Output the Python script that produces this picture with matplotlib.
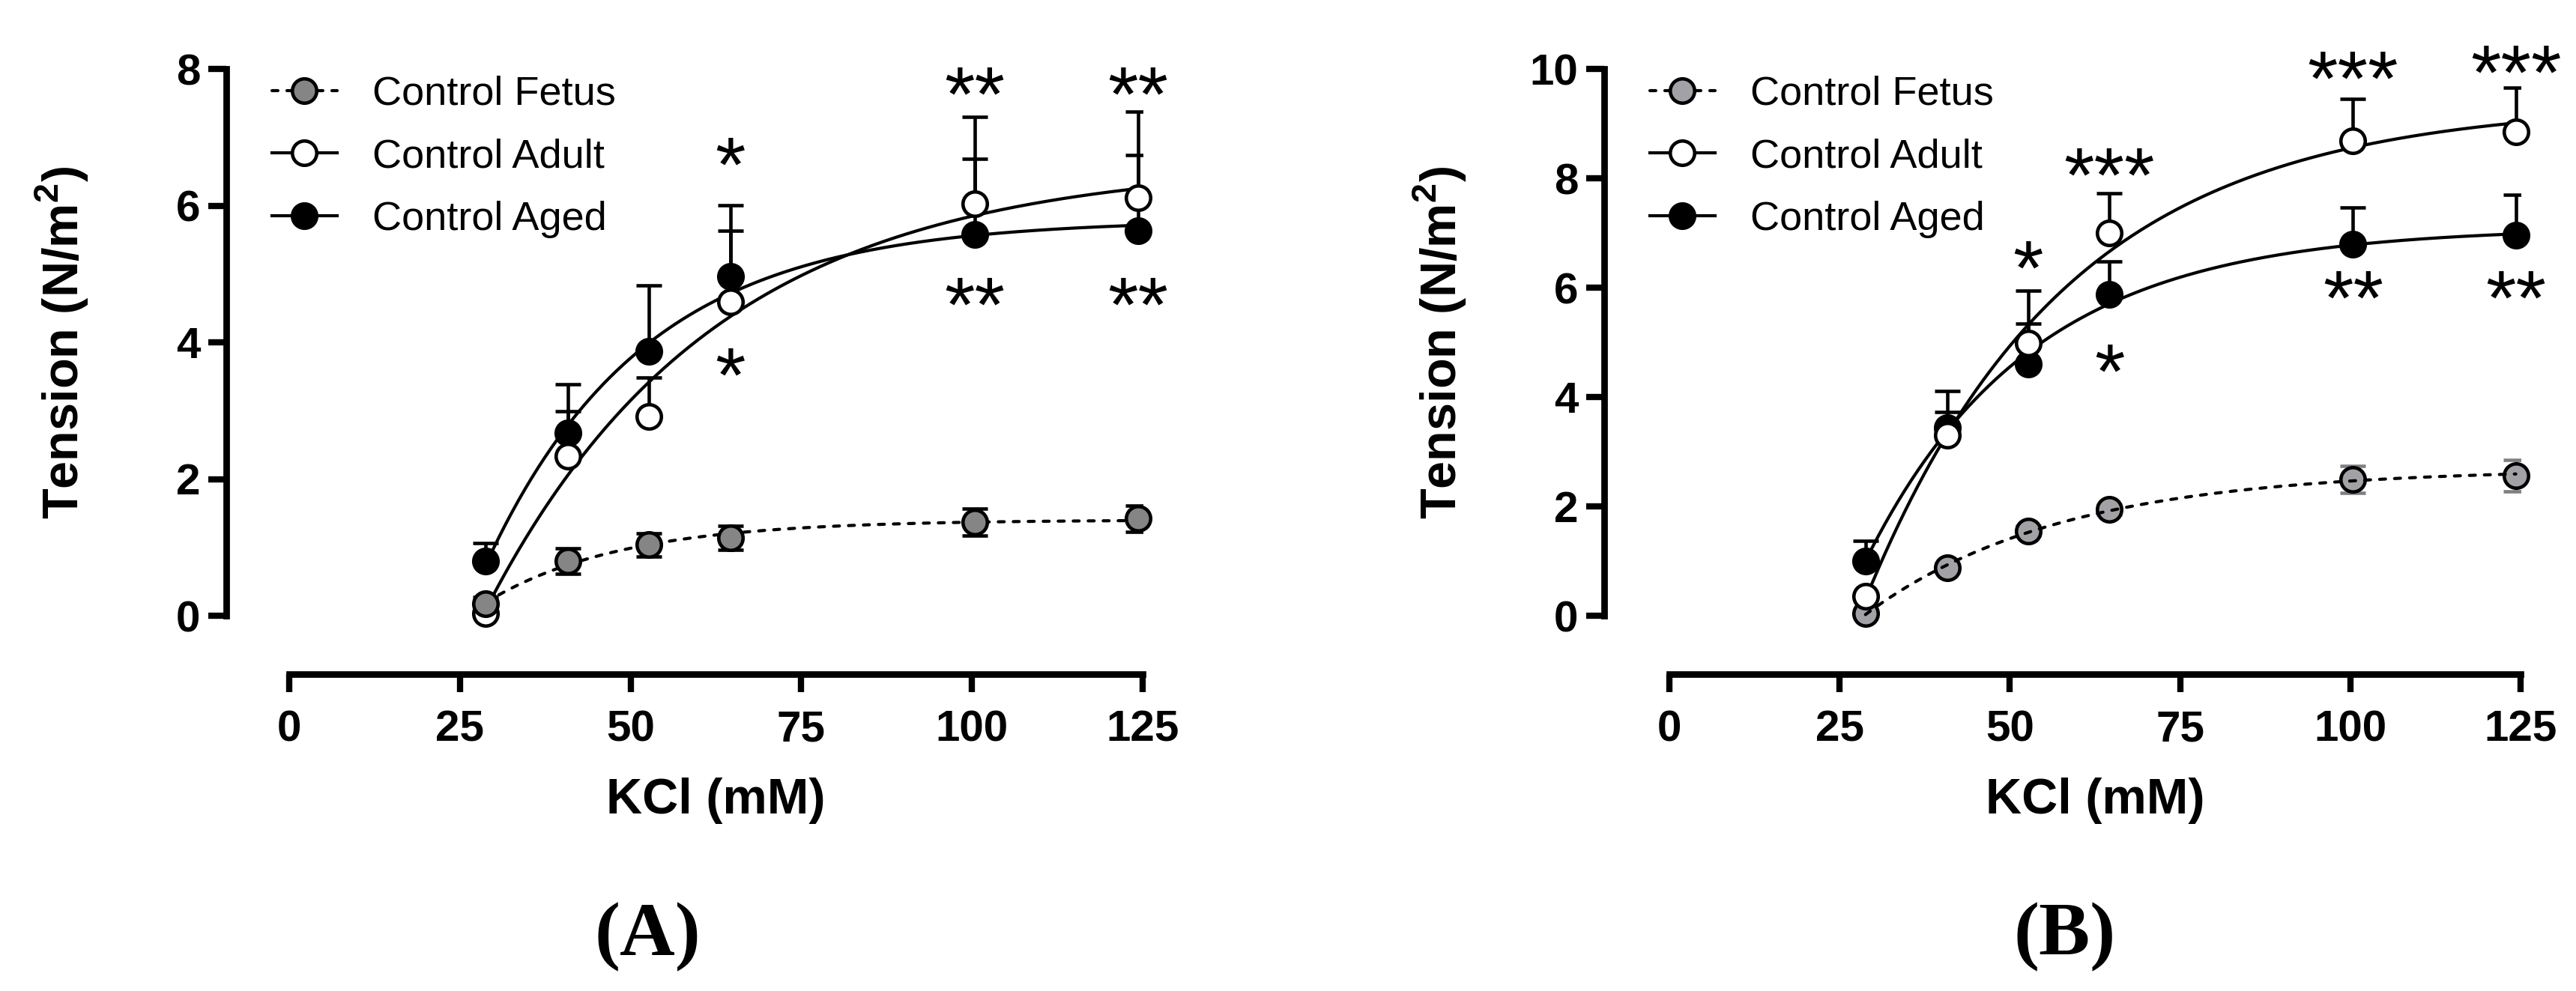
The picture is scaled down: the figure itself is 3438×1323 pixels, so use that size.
import numpy as np
import matplotlib
matplotlib.use('Agg')
import matplotlib.pyplot as plt
from matplotlib.lines import Line2D
import matplotlib.transforms as mtransforms

plt.rcParams['font.family'] = ['Liberation Sans', 'DejaVu Sans']
plt.rcParams['mathtext.fontset'] = 'custom'
plt.rcParams['mathtext.rm'] = 'Liberation Sans'
plt.rcParams['mathtext.bf'] = 'Liberation Sans:bold'

# ---------------- data ----------------
kcl = [28.8, 40.8, 52.7, 64.6, 100.4, 124.3]
series_labels = ['Control Fetus', 'Control Adult', 'Control Aged']
x_ticks = [0, 25, 50, 75, 100, 125]
x_tick_labels = ['0', '25', '50', '75', '100', '125']
yA_ticks = [0, 2, 4, 6, 8]
yA_tick_labels = ['0', '2', '4', '6', '8']
yB_ticks = [0, 2, 4, 6, 8, 10]
yB_tick_labels = ['0', '2', '4', '6', '8', '10']

A_fetus = [0.17, 0.80, 1.04, 1.14, 1.37, 1.42]
A_fetus_err = [0.10, 0.19, 0.17, 0.18, 0.20, 0.19]
A_adult = [0.03, 2.33, 2.92, 4.59, 6.03, 6.12]
A_adult_err = [0.00, 0.66, 0.57, 1.04, 1.27, 1.26]
A_aged = [0.80, 2.67, 3.87, 4.96, 5.58, 5.63]
A_aged_err = [0.26, 0.72, 0.96, 1.05, 1.11, 1.11]

B_fetus = [0.04, 0.87, 1.55, 1.94, 2.49, 2.56]
B_fetus_err = [0.07, 0.08, 0.09, 0.09, 0.25, 0.29]
B_adult = [0.35, 3.30, 4.99, 7.00, 8.68, 8.85]
B_adult_err = [0.00, 0.81, 0.96, 0.72, 0.77, 0.81]
B_aged = [1.00, 3.44, 4.60, 5.87, 6.79, 6.96]
B_aged_err = [0.37, 0.28, 0.74, 0.61, 0.68, 0.74]

A_star_x = [64.6, 100.4, 124.3, 64.6, 100.4, 124.3]
A_star_y = [6.77, 7.80, 7.80, 3.70, 4.73, 4.73]
A_star_txt = ['*', '**', '**', '*', '**', '**']
B_star_x = [52.7, 64.6, 100.4, 124.3, 64.6, 100.4, 124.3]
B_star_y = [6.58, 8.28, 10.04, 10.15, 4.69, 6.03, 6.03]
B_star_txt = ['*', '***', '***', '***', '*', '**', '**']

# ---------------- figure ----------------
W, H, DPI = 3438, 1323, 300
fig = plt.figure(figsize=(W / DPI, H / DPI), dpi=DPI)


def fit_assoc(x, y):
    """least-squares fit of y = Ymax*(1-exp(-k*(x-x0)))"""
    x = np.asarray(x, float)
    y = np.asarray(y, float)
    ks = np.linspace(0.003, 0.25, 500)[:, None, None]
    x0s = np.linspace(-30, x[0] + 3, 250)[None, :, None]
    f = 1 - np.exp(-ks * (x - x0s))
    amp = (f * y).sum(-1) / (f * f).sum(-1)
    sse = ((amp[..., None] * f - y) ** 2).sum(-1)
    i, j = np.unravel_index(np.argmin(sse), sse.shape)
    k = ks[i, 0, 0]
    x0 = x0s[0, j, 0]
    a = amp[i, j]
    return lambda t: a * (1 - np.exp(-k * (t - x0)))


MS, MEW = 7.8, 1.1
LW = 1.0
DASH = (1.9, 2.9)


def draw_panel(ax, x, fetus, fetus_err, adult, adult_err, aged, aged_err,
               ymax, yticks, yticklabels, fetus_fill, fetus_ecolor,
               fetus_line_top, fetus_marker_z, sx, sy, st, xleft):
    x = np.asarray(x, float)
    ax.set_xlim(xleft, 125)
    ax.set_ylim(0, ymax)
    xs = np.linspace(x[0], x[-1], 300)

    # fitted curves
    ax.plot(xs, fit_assoc(x, fetus)(xs), color='k', lw=LW, dashes=DASH,
            dash_capstyle='round', zorder=4 if fetus_line_top else 2, clip_on=False)
    ax.plot(xs, fit_assoc(x, adult)(xs), color='k', lw=LW, zorder=2, clip_on=False)
    ax.plot(xs, fit_assoc(x, aged)(xs), color='k', lw=LW, zorder=2, clip_on=False)

    # error bars
    z = np.zeros(len(x))
    ax.errorbar(x, fetus, yerr=fetus_err, fmt='none', ecolor=fetus_ecolor,
                elinewidth=1.1, capsize=4, capthick=1.1, zorder=2)
    ax.errorbar(x, adult, yerr=[z, adult_err], fmt='none', ecolor='k',
                elinewidth=1.1, capsize=4, capthick=1.1, zorder=2)
    ax.errorbar(x, aged, yerr=[z, aged_err], fmt='none', ecolor='k',
                elinewidth=1.1, capsize=4, capthick=1.1, zorder=2)

    # markers
    ax.plot(x, aged, 'o', ms=MS, mfc='k', mec='k', mew=MEW, ls='none',
            zorder=3.1, clip_on=False)
    ax.plot(x, adult, 'o', ms=MS, mfc='white', mec='k', mew=MEW, ls='none',
            zorder=3.2, clip_on=False)
    ax.plot(x, fetus, 'o', ms=MS, mfc=fetus_fill, mec='k', mew=MEW, ls='none',
            zorder=fetus_marker_z, clip_on=False)

    # stars
    fs_star = 25
    for xi, yi, t in zip(sx, sy, st):
        ax.annotate(t, (xi, yi), xytext=(0, -12.4), textcoords='offset points',
                    ha='center', va='baseline', fontsize=fs_star, annotation_clip=False)

    # axes styling
    for s in ['top', 'right']:
        ax.spines[s].set_visible(False)
    ax.spines['left'].set_linewidth(2.1)
    ax.spines['bottom'].set_linewidth(2.1)
    ax.spines['left'].set_bounds(0, ymax)
    ax.spines['bottom'].set_bounds(0, 125)
    ax.spines['bottom'].set_position(('outward', 18.7))
    ax.set_xticks(x_ticks)
    ax.set_xticklabels(x_tick_labels, fontweight='bold', fontsize=14)
    ax.set_yticks(yticks)
    ax.set_yticklabels(yticklabels, fontweight='bold', fontsize=14)
    ax.tick_params(axis='both', direction='out', length=5.8, width=2.0, color='k')
    ax.tick_params(axis='x', pad=5.5)
    ax.tick_params(axis='y', pad=2.5)

    ax.set_xlabel('KCl (mM)', fontsize=16, fontweight='bold')
    ax.xaxis.set_label_coords(62.5, -0.3616,
                              transform=mtransforms.blended_transform_factory(ax.transData, ax.transAxes))
    ax.xaxis.label.set_va('baseline')
    ax.set_ylabel('Tension (N/m$^\\mathbf{2}$)', fontsize=16, fontweight='bold')
    ax.yaxis.set_label_coords(-0.161, 0.5)
    ax.yaxis.label.set_va('baseline')

    handles = [
        Line2D([], [], color='k', lw=LW, dashes=DASH, dash_capstyle='round', marker='o',
               ms=MS, mfc=fetus_fill, mec='k', mew=MEW),
        Line2D([], [], color='k', lw=LW, marker='o', ms=MS, mfc='white', mec='k', mew=MEW),
        Line2D([], [], color='k', lw=LW, marker='o', ms=MS, mfc='k', mec='k', mew=MEW),
    ]
    ax.legend(handles, series_labels, loc='upper left', bbox_to_anchor=(0.05, 0.988),
              frameon=False, fontsize=13, handlelength=1.6, handletextpad=0.87,
              labelspacing=0.62, borderpad=0, borderaxespad=0)


axA = fig.add_axes([302 / W, 1 - 822 / H, 1223 / W, 730 / H])
axB = fig.add_axes([2141 / W, 1 - 822 / H, 1223 / W, 730 / H])

draw_panel(axA, kcl, A_fetus, A_fetus_err, A_adult, A_adult_err, A_aged, A_aged_err,
           8, yA_ticks, yA_tick_labels, '#858585', 'k', False, 3.5,
           A_star_x, A_star_y, A_star_txt, -9.22)
draw_panel(axB, kcl, B_fetus, B_fetus_err, B_adult, B_adult_err, B_aged, B_aged_err,
           10, yB_ticks, yB_tick_labels, '#a2a2a6', '#808080', True, 3.0,
           B_star_x, B_star_y, B_star_txt, -9.57)

fig.text(864 / W, 1 - 1275 / H, '(A)', family=['Liberation Serif'], fontweight='bold',
         fontsize=24.5, ha='center', va='baseline')
fig.text(2756 / W, 1 - 1275 / H, '(B)', family=['Liberation Serif'], fontweight='bold',
         fontsize=24.5, ha='center', va='baseline')

fig.savefig('out.png', dpi=DPI)
